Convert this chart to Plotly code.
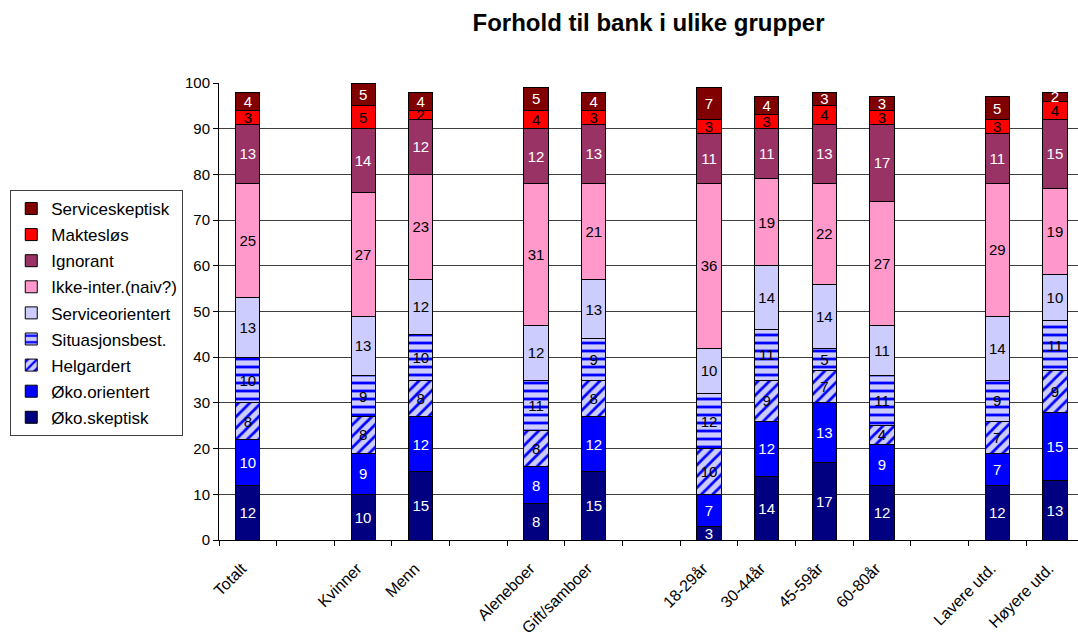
import plotly.graph_objects as go

# Category slots (blank slots are the gaps between groups)
slots = ["Totalt", " ", "Kvinner", "Menn", "  ", "Aleneboer", "Gift/samboer", "   ",
         "18-29år", "30-44år", "45-59år", "60-80år", "    ", "Lavere utd.", "Høyere utd."]
groups = ["Totalt", "Kvinner", "Menn", "Aleneboer", "Gift/samboer",
          "18-29år", "30-44år", "45-59år", "60-80år", "Lavere utd.", "Høyere utd."]

oko_skeptisk     = [12, 10, 15, 8, 15, 3, 14, 17, 12, 12, 13]
oko_orientert    = [10, 9, 12, 8, 12, 7, 12, 13, 9, 7, 15]
helgardert       = [8, 8, 8, 8, 8, 10, 9, 7, 4, 7, 9]
situasjonsbest   = [10, 9, 10, 11, 9, 12, 11, 5, 11, 9, 11]
serviceorientert = [13, 13, 12, 12, 13, 10, 14, 14, 11, 14, 10]
ikke_inter       = [25, 27, 23, 31, 21, 36, 19, 22, 27, 29, 19]
ignorant         = [13, 14, 12, 12, 13, 11, 11, 13, 17, 11, 15]
makteslos        = [3, 5, 2, 4, 3, 3, 3, 4, 3, 3, 4]
serviceskeptisk  = [4, 5, 4, 5, 4, 7, 4, 3, 3, 5, 2]

y_ticks = [0, 10, 20, 30, 40, 50, 60, 70, 80, 90, 100]

series = [
    ("Øko.skeptisk", oko_skeptisk, "#000080", None, "white"),
    ("Øko.orientert", oko_orientert, "#0000FF", None, "white"),
    ("Helgardert", helgardert, "#CCCCFF", "/", "black"),
    ("Situasjonsbest.", situasjonsbest, "#CCCCFF", "-", "black"),
    ("Serviceorientert", serviceorientert, "#CCCCFF", None, "black"),
    ("Ikke-inter.(naiv?)", ikke_inter, "#FF99CC", None, "black"),
    ("Ignorant", ignorant, "#993366", None, "white"),
    ("Maktesløs", makteslos, "#FF0000", None, "black"),
    ("Serviceskeptisk", serviceskeptisk, "#800000", None, "white"),
]

fig = go.Figure()
n = len(series)
for i, (name, vals, color, shape, tcolor) in enumerate(series):
    marker = dict(color=color, line=dict(color="black", width=1))
    if shape:
        marker["pattern"] = dict(shape=shape, fgcolor="#0000FF", bgcolor="#CCCCFF",
                                 fillmode="replace", size=8, solidity=0.35)
    fig.add_trace(go.Bar(
        x=groups, y=vals, name=name, marker=marker,
        text=vals, texttemplate="%{text}", textposition="inside",
        insidetextanchor="middle", textangle=0,
        textfont=dict(family="Arial, Liberation Sans", size=15, color=tcolor),
        legendgroup=name, legendrank=n - i,
    ))

fig.update_layout(
    width=1078, height=639,
    barmode="stack", bargap=0.58,
    plot_bgcolor="white", paper_bgcolor="white",
    margin=dict(l=219, r=0, t=83, b=99),
    font=dict(family="Arial, Liberation Sans", color="black"),
    title=dict(text="<b>Forhold til bank i ulike grupper</b>", x=0.5, xref="paper",
               y=1 - 23 / 639, yref="container", yanchor="middle",
               font=dict(size=24, color="black")),
    uniformtext=dict(minsize=15, mode="show"),
    legend=dict(x=-0.243, y=0.766, xanchor="left", yanchor="top",
                traceorder="grouped", tracegroupgap=1,
                bordercolor="#404040", borderwidth=1, bgcolor="white",
                font=dict(size=17)),
)
fig.update_xaxes(type="category", categoryorder="array", categoryarray=slots,
                 range=[-0.5, 14.4], tickson="boundaries", ticks="outside", ticklen=5,
                 tickcolor="black", showline=True, linecolor="black", linewidth=1,
                 tickangle=-45, tickfont=dict(size=16), showgrid=False,
                 ticklabelstandoff=12, ticklabelshift=-6, automargin=False)
fig.update_yaxes(range=[0, 100], tickvals=y_ticks, ticks="outside", ticklen=5,
                 tickcolor="black", showline=True, linecolor="black", linewidth=1,
                 showgrid=True, gridcolor="#404040", gridwidth=1,
                 tickfont=dict(size=15), zeroline=False, automargin=False)

fig.write_html("out.html")
